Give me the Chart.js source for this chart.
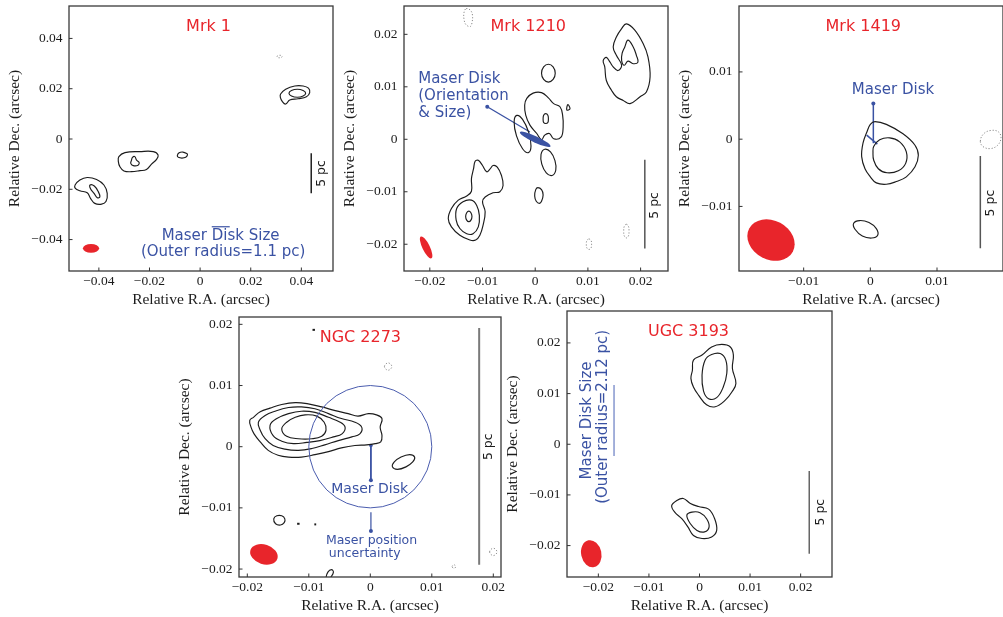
<!DOCTYPE html>
<html><head><meta charset="utf-8">
<script src="https://cdn.jsdelivr.net/npm/chart.js@4.4.1/dist/chart.umd.min.js"></script>
<style>
html,body{margin:0;padding:0;background:#fff;width:1003px;height:617px;overflow:hidden;position:relative}
canvas{position:absolute}
</style>
</head><body>
<canvas id="c1"></canvas><canvas id="c2"></canvas><canvas id="c3"></canvas><canvas id="c4"></canvas><canvas id="c5"></canvas>
<script>
// ---------------- DATA ----------------
// Panel 1: Mrk 1
const mrk1Ticks = [-0.04,-0.02,0,0.02,0.04];
const mrk1Labels = ['\u22120.04','\u22120.02','0','0.02','0.04'];
const mrk1C1 = [[0.0318,0.0179],[0.0338,0.0198],[0.0374,0.0211],[0.0407,0.0211],[0.0428,0.0202],[0.0433,0.0184],[0.0420,0.0168],[0.0387,0.0160],[0.0354,0.0155],[0.0338,0.0139],[0.0325,0.0149],[0.0317,0.0166]];
const mrk1C2 = [[0.0351,0.0182],[0.0361,0.0193],[0.0384,0.0198],[0.0407,0.0193],[0.0417,0.0182],[0.0407,0.0171],[0.0384,0.0166],[0.0361,0.0171]];
const mrk1C3 = [[-0.0321,-0.0070],[-0.0297,-0.0054],[-0.0238,-0.0050],[-0.0185,-0.0050],[-0.0166,-0.0064],[-0.0172,-0.0081],[-0.0192,-0.0100],[-0.0212,-0.0121],[-0.0238,-0.0126],[-0.0271,-0.0130],[-0.0301,-0.0127],[-0.0317,-0.0110],[-0.0323,-0.0090]];
const mrk1C4 = [[-0.0267,-0.0073],[-0.0258,-0.0070],[-0.0251,-0.0084],[-0.0241,-0.0093],[-0.0245,-0.0104],[-0.0264,-0.0106],[-0.0274,-0.0097],[-0.0271,-0.0084]];
const mrk1C5 = [[-0.0090,-0.0066],[-0.0083,-0.0055],[-0.0068,-0.0052],[-0.0053,-0.0058],[-0.0050,-0.0063],[-0.0057,-0.0073],[-0.0072,-0.0076],[-0.0086,-0.0073]];
const mrk1C6 = [[-0.0494,-0.0183],[-0.0475,-0.0163],[-0.0446,-0.0153],[-0.0409,-0.0161],[-0.0380,-0.0183],[-0.0367,-0.0216],[-0.0372,-0.0249],[-0.0389,-0.0259],[-0.0416,-0.0256],[-0.0433,-0.0236],[-0.0446,-0.0214],[-0.0475,-0.0206],[-0.0493,-0.0196]];
const mrk1C7 = [[-0.0435,-0.0183],[-0.0418,-0.0187],[-0.0402,-0.0210],[-0.0396,-0.0230],[-0.0406,-0.0234],[-0.0419,-0.0216],[-0.0433,-0.0198]];
const mrk1D1 = [[0.0304,0.0328],[0.0307,0.0332],[0.0314,0.0333],[0.0321,0.0332],[0.0324,0.0328],[0.0321,0.0324],[0.0314,0.0323],[0.0307,0.0324]];
const mrk1Bar = [[0.0439,-0.0057],[0.0439,-0.0216]];
const mrk1DiskBar = [[0.0046,-0.0349],[0.0117,-0.0349]];
const mrk1Beam = [-0.0431,-0.0435,0.0032,0.0017,90]; // x, y, semi-major, semi-minor, PA

// Panel 2: Mrk 1210
const mrk1210Ticks = [-0.02,-0.01,0,0.01,0.02];
const mrk1210Labels = ['\u22120.02','\u22120.01','0','0.01','0.02'];
const mrk1210C1 = [[0.0173,0.0220],[0.0189,0.0208],[0.0205,0.0182],[0.0214,0.0157],[0.0218,0.0119],[0.0211,0.0090],[0.0199,0.0081],[0.0180,0.0068],[0.0167,0.0074],[0.0154,0.0081],[0.0145,0.0093],[0.0135,0.0112],[0.0132,0.0138],[0.0129,0.0150],[0.0135,0.0156],[0.0142,0.0147],[0.0148,0.0138],[0.0157,0.0131],[0.0164,0.0141],[0.0154,0.0160],[0.0148,0.0176],[0.0154,0.0195],[0.0164,0.0211]];
const mrk1210C2 = [[0.0176,0.0189],[0.0186,0.0176],[0.0192,0.0160],[0.0195,0.0147],[0.0186,0.0144],[0.0176,0.0149],[0.0169,0.0141],[0.0164,0.0150],[0.0165,0.0164],[0.0170,0.0176]];
const mrk1210C3 = [[0.0025,0.0143],[0.0034,0.0138],[0.0038,0.0126],[0.0034,0.0114],[0.0025,0.0109],[0.0016,0.0114],[0.0012,0.0126],[0.0016,0.0138]];
const mrk1210C4 = [[-0.0016,0.0078],[-0.0004,0.0088],[0.0012,0.0089],[0.0025,0.0079],[0.0035,0.0068],[0.0047,0.0062],[0.0052,0.0046],[0.0053,0.0023],[0.0049,0.0004],[0.0035,0.0001],[0.0027,0.0011],[0.0018,0.0008],[0.0012,-0.0001],[0.0003,0.0011],[-0.0010,0.0027],[-0.0018,0.0046],[-0.0020,0.0065]];
const mrk1210C5 = [[0.0020,0.0049],[0.0024,0.0046],[0.0025,0.0039],[0.0024,0.0032],[0.0020,0.0030],[0.0016,0.0032],[0.0015,0.0039],[0.0016,0.0046]];
const mrk1210C6 = [[0.0062,0.0066],[0.0066,0.0058],[0.0060,0.0056]];
const mrk1210C7 = [[-0.0013,-0.00255],[-0.0008,-0.0013],[-0.00125,0.00136],[-0.0024,0.0038],[-0.0035,0.00455],[-0.0040,0.0033],[-0.00355,0.00064],[-0.0024,-0.0018]];
const mrk1210C8 = [[0.0032,-0.0069],[0.0039,-0.0059],[0.00375,-0.00405],[0.0029,-0.0024],[0.0018,-0.0019],[0.0011,-0.0029],[0.00125,-0.00475],[0.0021,-0.0064]];
const mrk1210C9 = [[0.0005,-0.0092],[0.0012,-0.0096],[0.0015,-0.0106],[0.0012,-0.0118],[0.0008,-0.0122],[0.0002,-0.0118],[-0.0001,-0.0108],[0.0001,-0.0096]];
const mrk1210C10 = [[-0.0114,-0.0042],[-0.0108,-0.0040],[-0.0100,-0.0050],[-0.0092,-0.0062],[-0.0086,-0.0057],[-0.0080,-0.0050],[-0.0072,-0.0053],[-0.0064,-0.0069],[-0.0061,-0.0088],[-0.0067,-0.0100],[-0.0080,-0.0102],[-0.0095,-0.0110],[-0.0100,-0.0119],[-0.0095,-0.0138],[-0.0099,-0.0164],[-0.0105,-0.0183],[-0.0113,-0.0192],[-0.0124,-0.0192],[-0.0143,-0.0183],[-0.0159,-0.0167],[-0.0165,-0.0151],[-0.0159,-0.0132],[-0.0146,-0.0116],[-0.0130,-0.0108],[-0.0121,-0.0099],[-0.0121,-0.0075],[-0.0117,-0.0056]];
const mrk1210C11 = [[-0.0149,-0.0132],[-0.0137,-0.0119],[-0.0121,-0.0116],[-0.0111,-0.0126],[-0.0106,-0.0145],[-0.0108,-0.0167],[-0.0118,-0.0180],[-0.0130,-0.0180],[-0.0143,-0.0170],[-0.0150,-0.0154]];
const mrk1210C12 = [[-0.0126,-0.0137],[-0.0122,-0.0140],[-0.0120,-0.0147],[-0.0122,-0.0154],[-0.0126,-0.0157],[-0.0130,-0.0154],[-0.0132,-0.0147],[-0.0130,-0.0140]];
const mrk1210D1 = [[-0.0131,0.0249],[-0.0123,0.0246],[-0.0119,0.0236],[-0.0120,0.0222],[-0.0123,0.0215],[-0.0131,0.0218],[-0.0135,0.0228],[-0.0135,0.0242]];
const mrk1210D2 = [[0.0102,-0.0190],[0.0106,-0.0193],[0.0107,-0.0200],[0.0106,-0.0207],[0.0102,-0.0210],[0.0098,-0.0207],[0.0097,-0.0200],[0.0098,-0.0193]];
const mrk1210D3 = [[0.0173,-0.0162],[0.0177,-0.0166],[0.0178,-0.0175],[0.0177,-0.0184],[0.0173,-0.0188],[0.0169,-0.0184],[0.0168,-0.0175],[0.0169,-0.0166]];
const mrk1210Bar = [[0.0208,-0.0039],[0.0208,-0.0208]];
const mrk1210Arrow = [[-0.0091,0.0062],[-0.0010,0.0014]];
const mrk1210Beam = [-0.0207,-0.0206,0.0023,0.0007,26];
const mrk1210Disk = [0,0,0.0032,0.0006,65];

// Panel 3: Mrk 1419
const mrk1419Ticks = [-0.01,0,0.01];
const mrk1419Labels = ['\u22120.01','0','0.01'];
const mrk1419C1 = [[0.0007,0.0026],[0.0024,0.0022],[0.0049,0.0008],[0.0067,-0.0009],[0.0072,-0.0024],[0.0067,-0.0041],[0.0054,-0.0056],[0.0039,-0.0063],[0.0024,-0.0067],[0.0009,-0.0065],[0.0000,-0.0056],[-0.0008,-0.0044],[-0.0013,-0.0026],[-0.0011,-0.0006],[-0.0005,0.0011],[0.0000,0.0022]];
const mrk1419C2 = [[0.0005,-0.0011],[0.0014,-0.0001],[0.0029,0.0002],[0.0044,-0.0004],[0.0054,-0.0019],[0.0053,-0.0036],[0.0042,-0.0047],[0.0025,-0.0050],[0.0012,-0.0044],[0.0005,-0.0031],[0.0004,-0.0020]];
const mrk1419C3 = [[0.0011,-0.0143],[0.0009,-0.0133],[-0.0002,-0.0124],[-0.0016,-0.0121],[-0.0025,-0.0125],[-0.0023,-0.0134],[-0.0012,-0.0144],[0.0002,-0.0147]];
const mrk1419D1 = [[0.0165,-0.0003],[0.0170,0.0008],[0.0181,0.0013],[0.0192,0.0011],[0.0196,0.0002],[0.0191,-0.0009],[0.0180,-0.0014],[0.0169,-0.0011]];
const mrk1419Bar = [[0.0165,-0.0025],[0.0165,-0.0162]];
const mrk1419Arrow = [[0.00045,-0.0006],[0.00045,0.0053]];
const mrk1419DiskLine = [[-0.00055,0.0006],[0.00105,-0.00074]];
const mrk1419Beam = [-0.0149,-0.0150,0.0037,0.0029,62];

// Panel 4: NGC 2273
const ngc2273Ticks = [-0.02,-0.01,0,0.01,0.02];
const ngc2273Labels = ['\u22120.02','\u22120.01','0','0.01','0.02'];
const ngc2273C1 = [[-0.0196,0.0043],[-0.0190,0.0048],[-0.0179,0.0057],[-0.0163,0.0063],[-0.0144,0.0069],[-0.0122,0.0072],[-0.0101,0.0070],[-0.0079,0.0065],[-0.0057,0.0059],[-0.0036,0.0054],[-0.0020,0.0050],[-0.0003,0.0054],[0.0010,0.0052],[0.0019,0.0046],[0.0016,0.0032],[0.0019,0.0018],[0.0017,0.0008],[0.0008,0.0005],[-0.0006,0.0003],[-0.0025,0.0002],[-0.0047,-0.0002],[-0.0068,-0.0008],[-0.0090,-0.0013],[-0.0112,-0.0017],[-0.0133,-0.0017],[-0.0150,-0.0014],[-0.0166,-0.0006],[-0.0179,0.0008],[-0.0189,0.0021],[-0.0194,0.0032]];
const ngc2273C2 = [[-0.0182,0.0040],[-0.0171,0.0051],[-0.0155,0.0058],[-0.0133,0.0064],[-0.0112,0.0065],[-0.0090,0.0062],[-0.0068,0.0054],[-0.0047,0.0046],[-0.0025,0.0040],[-0.0014,0.0032],[-0.0017,0.0021],[-0.0030,0.0016],[-0.0052,0.0010],[-0.0074,0.0003],[-0.0095,-0.0003],[-0.0117,-0.0006],[-0.0139,-0.0004],[-0.0158,0.0002],[-0.0171,0.0013],[-0.0179,0.0027]];
const ngc2273C3 = [[-0.0163,0.0035],[-0.0152,0.0046],[-0.0133,0.0054],[-0.0112,0.0058],[-0.0090,0.0056],[-0.0068,0.0048],[-0.0049,0.0040],[-0.0041,0.0032],[-0.0046,0.0021],[-0.0060,0.0016],[-0.0082,0.0010],[-0.0103,0.0007],[-0.0125,0.0005],[-0.0144,0.0009],[-0.0158,0.0018]];
const ngc2273C4 = [[-0.0144,0.0029],[-0.0136,0.0040],[-0.0122,0.0048],[-0.0106,0.0052],[-0.0087,0.0050],[-0.0075,0.0040],[-0.0072,0.0027],[-0.0079,0.0017],[-0.0095,0.0013],[-0.0117,0.0013],[-0.0136,0.0017]];
const ngc2273C5 = [[0.0072,-0.0017],[0.0064,-0.0013],[0.0050,-0.0017],[0.0039,-0.0025],[0.0036,-0.0033],[0.0044,-0.0037],[0.0058,-0.0033],[0.0069,-0.0025]];
const ngc2273C6 = [[-0.0157,-0.0118],[-0.0152,-0.0113],[-0.0144,-0.0113],[-0.0139,-0.0118],[-0.0140,-0.0124],[-0.0146,-0.0128],[-0.0154,-0.0126]];
const ngc2273C7 = [[-0.0072,-0.0215],[-0.0069,-0.0205],[-0.0063,-0.0201],[-0.0060,-0.0205],[-0.0064,-0.0213],[-0.0070,-0.0220]];
const ngc2273Specks = [[[-0.0119,-0.0126],[-0.0115,-0.0126]],[[-0.0091,-0.0127],[-0.0088,-0.0127]],[[-0.0094,0.0191],[-0.0090,0.0191]]];
const ngc2273D1 = [[0.0023,0.0131],[0.0025,0.0135],[0.0029,0.0137],[0.0033,0.0135],[0.0035,0.0131],[0.0033,0.0127],[0.0029,0.0125],[0.0025,0.0127]];
const ngc2273D2 = [[0.0194,-0.0172],[0.0196,-0.0168],[0.0200,-0.0166],[0.0204,-0.0168],[0.0206,-0.0172],[0.0204,-0.0176],[0.0200,-0.0178],[0.0196,-0.0176]];
const ngc2273D3 = [[0.0133,-0.0196],[0.0136,-0.0193],[0.0139,-0.0196],[0.0136,-0.0199]];
const ngc2273Bar = [[0.0177,0.0194],[0.0177,-0.0193]];
const ngc2273Arrow1 = [[0.0001,0.0002],[0.0001,-0.0055]];
const ngc2273Arrow2 = [[0.0001,-0.0107],[0.0001,-0.0138]];
const ngc2273Circle = [0,0,0.0100,0.0100,0];
const ngc2273Beam = [-0.0173,-0.0176,0.0023,0.0016,72];

// Panel 5: UGC 3193
const ugc3193Ticks = [-0.02,-0.01,0,0.01,0.02];
const ugc3193Labels = ['\u22120.02','\u22120.01','0','0.01','0.02'];
const ugc3193C1 = [[-0.0012,0.0166],[0.0005,0.0176],[0.0024,0.0192],[0.0044,0.0197],[0.0061,0.0192],[0.0067,0.0176],[0.0065,0.0150],[0.0072,0.0120],[0.0064,0.0103],[0.0051,0.0087],[0.0031,0.0074],[0.0014,0.0078],[-0.0002,0.0097],[-0.0012,0.0113],[-0.0017,0.0130],[-0.0014,0.0146]];
const ugc3193C2 = [[0.0011,0.0166],[0.0024,0.0177],[0.0041,0.0179],[0.0052,0.0166],[0.0054,0.0140],[0.0047,0.0113],[0.0034,0.0092],[0.0018,0.0090],[0.0008,0.0105],[0.0005,0.0136]];
const ugc3193C3 = [[-0.0055,-0.0121],[-0.0045,-0.0111],[-0.0032,-0.0107],[-0.0018,-0.0117],[-0.0002,-0.0123],[0.0018,-0.0128],[0.0030,-0.0147],[0.0034,-0.0170],[0.0024,-0.0183],[0.0005,-0.0186],[-0.0012,-0.0180],[-0.0023,-0.0163],[-0.0035,-0.0147],[-0.0049,-0.0134]];
const ugc3193C4 = [[-0.0025,-0.0140],[-0.0015,-0.0134],[0.0001,-0.0135],[0.0014,-0.0147],[0.0019,-0.0163],[0.0010,-0.0173],[-0.0005,-0.0170],[-0.0018,-0.0157]];
const ugc3193Bar = [[0.0217,-0.0053],[0.0217,-0.0216]];
const ugc3193DiskBar = [[-0.0169,0.0117],[-0.0169,-0.0023]];
const ugc3193Beam = [-0.0214,-0.0216,0.0027,0.0020,12];

// ---------------- STYLE ----------------
const INK = '#1c1c1c', BLUE = '#3a52a3', RED = '#e8252b', DOTC = '#8a8a8a';
const SERIF = '"Liberation Serif", "Times New Roman", serif';
const SANS = '"DejaVu Sans", sans-serif';

function closedDS(pts, color, width, dash) {
  const n = pts.length;
  const seq = [pts[n-1]].concat(pts, [pts[0], pts[1]]);
  return {
    data: seq.map(p => ({x:p[0], y:p[1]})),
    borderColor: color, borderWidth: width, borderDash: dash || [],
    pointRadius: 0, tension: 0.4, fill: false,
    segment: { borderColor: c => (c.p0DataIndex === 0 || c.p0DataIndex === n + 1) ? 'rgba(0,0,0,0)' : undefined }
  };
}
function lineDS(pts, color, width, radii) {
  return {
    data: pts.map(p => ({x:p[0], y:p[1]})),
    borderColor: color, borderWidth: width, tension: 0, fill: false,
    pointRadius: radii || 0, pointBackgroundColor: color, pointBorderWidth: 0, pointHoverRadius: 0
  };
}
function axis(min, max, ticks, labels, isY, title) {
  return {
    type: 'linear', min: min, max: max,
    afterBuildTicks: ax => { ax.ticks = ticks.map(v => ({value: v})); },
    afterFit: ax => {
      if (isY) ax.width = 69; else ax.height = 45;
      ax.paddingTop = 0; ax.paddingBottom = 0; ax.paddingLeft = 0; ax.paddingRight = 0;
    },
    grid: {display: false, drawTicks: false},
    border: {display: false},
    ticks: {
      autoSkip: false, maxRotation: 0, color: INK,
      font: {family: SERIF, size: 13.5},
      padding: isY ? 6.5 : 2.5,
      callback: v => { const i = ticks.findIndex(t => Math.abs(t - v) < 1e-9); return i >= 0 ? labels[i] : ''; }
    },
    title: {
      display: true, text: title, color: INK,
      font: {family: SERIF, size: 15.5, lineHeight: 1.2},
      padding: isY ? {top: 5.7, bottom: 0} : {top: 0, bottom: 6.7}
    }
  };
}

function decoPlugin(cfg) {
  return {
    id: 'deco_' + cfg.id,
    afterDatasetsDraw(chart) {
      const ctx = chart.ctx, a = chart.chartArea, xs = chart.scales.x, ys = chart.scales.y;
      const kx = Math.abs(xs.getPixelForValue(0.01) - xs.getPixelForValue(0)) / 0.01;
      const ky = Math.abs(ys.getPixelForValue(0.01) - ys.getPixelForValue(0)) / 0.01;
      ctx.save();
      ctx.beginPath(); ctx.rect(a.left, a.top, a.right - a.left, a.bottom - a.top); ctx.clip();
      (cfg.ellipses || []).forEach(el => {
        const e = el.e;
        const cx = xs.getPixelForValue(e[0]), cy = ys.getPixelForValue(e[1]);
        const th = (90 - e[4]) * Math.PI / 180;
        const s = Math.sqrt(Math.pow(kx * Math.cos(th), 2) + Math.pow(ky * Math.sin(th), 2));
        const s2 = Math.sqrt(Math.pow(kx * Math.sin(th), 2) + Math.pow(ky * Math.cos(th), 2));
        ctx.beginPath();
        ctx.ellipse(cx, cy, e[2] * s, e[3] * s2, th, 0, Math.PI * 2);
        if (el.fill) { ctx.fillStyle = el.fill; ctx.fill(); }
        if (el.stroke) { ctx.strokeStyle = el.stroke; ctx.lineWidth = el.lw || 1; ctx.stroke(); }
      });
      ctx.restore();
      ctx.save();
      (cfg.texts || []).forEach(t => {
        ctx.save();
        ctx.translate(xs.getPixelForValue(t.x), ys.getPixelForValue(t.y));
        if (t.rot) ctx.rotate(t.rot * Math.PI / 180);
        ctx.font = t.size + 'px ' + SANS;
        ctx.fillStyle = t.color; ctx.textAlign = t.align || 'center'; ctx.textBaseline = 'middle';
        ctx.fillText(t.t, 0, 0);
        ctx.restore();
      });
      // panel title
      ctx.font = '16px ' + SANS; ctx.fillStyle = RED; ctx.textAlign = 'right'; ctx.textBaseline = 'middle';
      ctx.fillText(cfg.title, a.left + 162, a.top + 21);
      // frame
      ctx.strokeStyle = '#3a3a3a'; ctx.lineWidth = 1.3;
      ctx.strokeRect(a.left, a.top, a.right - a.left, a.bottom - a.top);
      // inward ticks
      ctx.lineWidth = 1; ctx.strokeStyle = '#333';
      xs.ticks.forEach(t => { const p = xs.getPixelForValue(t.value); ctx.beginPath(); ctx.moveTo(p, a.bottom); ctx.lineTo(p, a.bottom - 3.5); ctx.stroke(); });
      ys.ticks.forEach(t => { const p = ys.getPixelForValue(t.value); ctx.beginPath(); ctx.moveTo(a.left, p); ctx.lineTo(a.left + 3.5, p); ctx.stroke(); });
      ctx.restore();
    }
  };
}

function makePanel(cfg) {
  const cv = document.getElementById(cfg.id);
  const W = 69 + cfg.w + 16, H = 16 + cfg.h + 45;
  cv.width = W; cv.height = H;
  cv.style.left = cfg.left + 'px'; cv.style.top = cfg.top + 'px';
  cv.style.width = W + 'px'; cv.style.height = H + 'px';
  const ds = [];
  cfg.contours.forEach(c => ds.push(closedDS(c, INK, 1.15)));
  (cfg.dotted || []).forEach(c => ds.push(closedDS(c, DOTC, 1, [1.2, 1.8])));
  (cfg.lines || []).forEach(l => ds.push(lineDS(l.pts, l.color, l.width, l.radii)));
  new Chart(cv, {
    type: 'line',
    data: {datasets: ds},
    options: {
      responsive: false, animation: false, events: [],
      layout: {padding: {left: 0, top: 16, right: 16, bottom: 0}},
      plugins: {legend: {display: false}, tooltip: {enabled: false}, title: {display: false}},
      scales: {
        x: axis(cfg.xr[0], cfg.xr[1], cfg.ticks, cfg.labels, false, 'Relative R.A. (arcsec)'),
        y: axis(cfg.yr[0], cfg.yr[1], cfg.ticks, cfg.labels, true, 'Relative Dec. (arcsec)')
      }
    },
    plugins: [decoPlugin(cfg)]
  });
}

makePanel({
  id: 'c1', left: 0, top: -10, w: 264, h: 265, title: 'Mrk 1',
  xr: [-0.0518, 0.0525], yr: [-0.0525, 0.0529], ticks: mrk1Ticks, labels: mrk1Labels,
  contours: [mrk1C1, mrk1C2, mrk1C3, mrk1C4, mrk1C5, mrk1C6, mrk1C7],
  dotted: [mrk1D1],
  lines: [{pts: mrk1Bar, color: '#222', width: 1.5}, {pts: mrk1DiskBar, color: BLUE, width: 1.2}],
  ellipses: [{e: mrk1Beam, fill: RED}],
  texts: [
    {t: '5 pc', x: 0.0479, y: -0.0137, size: 12.5, color: INK, rot: -90},
    {t: 'Maser Disk Size', x: 0.0081, y: -0.0385, size: 15, color: BLUE},
    {t: '(Outer radius=1.1 pc)', x: 0.0091, y: -0.0451, size: 15, color: BLUE}
  ]
});
makePanel({
  id: 'c2', left: 335, top: -10, w: 264, h: 265, title: 'Mrk 1210',
  xr: [-0.0249, 0.0252], yr: [-0.0251, 0.0254], ticks: mrk1210Ticks, labels: mrk1210Labels,
  contours: [mrk1210C1, mrk1210C2, mrk1210C3, mrk1210C4, mrk1210C5, mrk1210C6, mrk1210C7, mrk1210C8, mrk1210C9, mrk1210C10, mrk1210C11, mrk1210C12],
  dotted: [mrk1210D1, mrk1210D2, mrk1210D3],
  lines: [{pts: mrk1210Bar, color: '#555', width: 1.5}, {pts: mrk1210Arrow, color: BLUE, width: 1.3, radii: [2, 0]}],
  ellipses: [{e: mrk1210Beam, fill: RED}, {e: mrk1210Disk, fill: BLUE}],
  texts: [
    {t: '5 pc', x: 0.0227, y: -0.0126, size: 12.5, color: INK, rot: -90},
    {t: 'Maser Disk', x: -0.0222, y: 0.0114, size: 15, color: BLUE, align: 'left'},
    {t: '(Orientation', x: -0.0222, y: 0.0082, size: 15, color: BLUE, align: 'left'},
    {t: '& Size)', x: -0.0222, y: 0.0050, size: 15, color: BLUE, align: 'left'}
  ]
});
makePanel({
  id: 'c3', left: 670, top: -10, w: 264, h: 265, title: 'Mrk 1419',
  xr: [-0.0197, 0.0199], yr: [-0.0196, 0.0198], ticks: mrk1419Ticks, labels: mrk1419Labels,
  contours: [mrk1419C1, mrk1419C2, mrk1419C3],
  dotted: [mrk1419D1],
  lines: [{pts: mrk1419Bar, color: '#555', width: 1.5}, {pts: mrk1419Arrow, color: BLUE, width: 1.5, radii: [0, 2]}, {pts: mrk1419DiskLine, color: BLUE, width: 1.6}],
  ellipses: [{e: mrk1419Beam, fill: RED}],
  texts: [
    {t: '5 pc', x: 0.0180, y: -0.0095, size: 12.5, color: INK, rot: -90},
    {t: 'Maser Disk', x: 0.0034, y: 0.0073, size: 15, color: BLUE}
  ]
});
makePanel({
  id: 'c4', left: 170, top: 301, w: 262, h: 260, title: 'NGC 2273',
  xr: [-0.02135, 0.02125], yr: [-0.0213, 0.0212], ticks: ngc2273Ticks, labels: ngc2273Labels,
  contours: [ngc2273C1, ngc2273C2, ngc2273C3, ngc2273C4, ngc2273C5, ngc2273C6, ngc2273C7],
  dotted: [ngc2273D1, ngc2273D2, ngc2273D3],
  lines: [{pts: ngc2273Bar, color: '#7a7a7a', width: 2}, {pts: ngc2273Arrow1, color: BLUE, width: 1.8, radii: [1.8, 2]}, {pts: ngc2273Arrow2, color: BLUE, width: 1.2, radii: [0, 2]}]
    .concat(ngc2273Specks.map(s => ({pts: s, color: INK, width: 2}))),
  ellipses: [{e: ngc2273Beam, fill: RED}, {e: ngc2273Circle, stroke: '#4a5cae', lw: 1}],
  texts: [
    {t: '5 pc', x: 0.0193, y: 0.0, size: 12.5, color: INK, rot: -90},
    {t: 'Maser Disk', x: -0.0001, y: -0.0069, size: 14, color: BLUE},
    {t: 'Maser position', x: 0.0002, y: -0.0153, size: 12.5, color: BLUE},
    {t: 'uncertainty', x: -0.0009, y: -0.0175, size: 12.5, color: BLUE}
  ]
});
makePanel({
  id: 'c5', left: 498, top: 295, w: 265, h: 266, title: 'UGC 3193',
  xr: [-0.0262, 0.0262], yr: [-0.0262, 0.0263], ticks: ugc3193Ticks, labels: ugc3193Labels,
  contours: [ugc3193C1, ugc3193C2, ugc3193C3, ugc3193C4],
  lines: [{pts: ugc3193Bar, color: '#666', width: 1.5}, {pts: ugc3193DiskBar, color: '#8797cf', width: 1.5}],
  ellipses: [{e: ugc3193Beam, fill: RED}],
  texts: [
    {t: '5 pc', x: 0.0240, y: -0.0134, size: 12.5, color: INK, rot: -90},
    {t: 'Maser Disk Size', x: -0.0223, y: 0.0047, size: 15, color: BLUE, rot: -90},
    {t: '(Outer radius=2.12 pc)', x: -0.0190, y: 0.0054, size: 15, color: BLUE, rot: -90}
  ]
});
</script>
</body></html>
